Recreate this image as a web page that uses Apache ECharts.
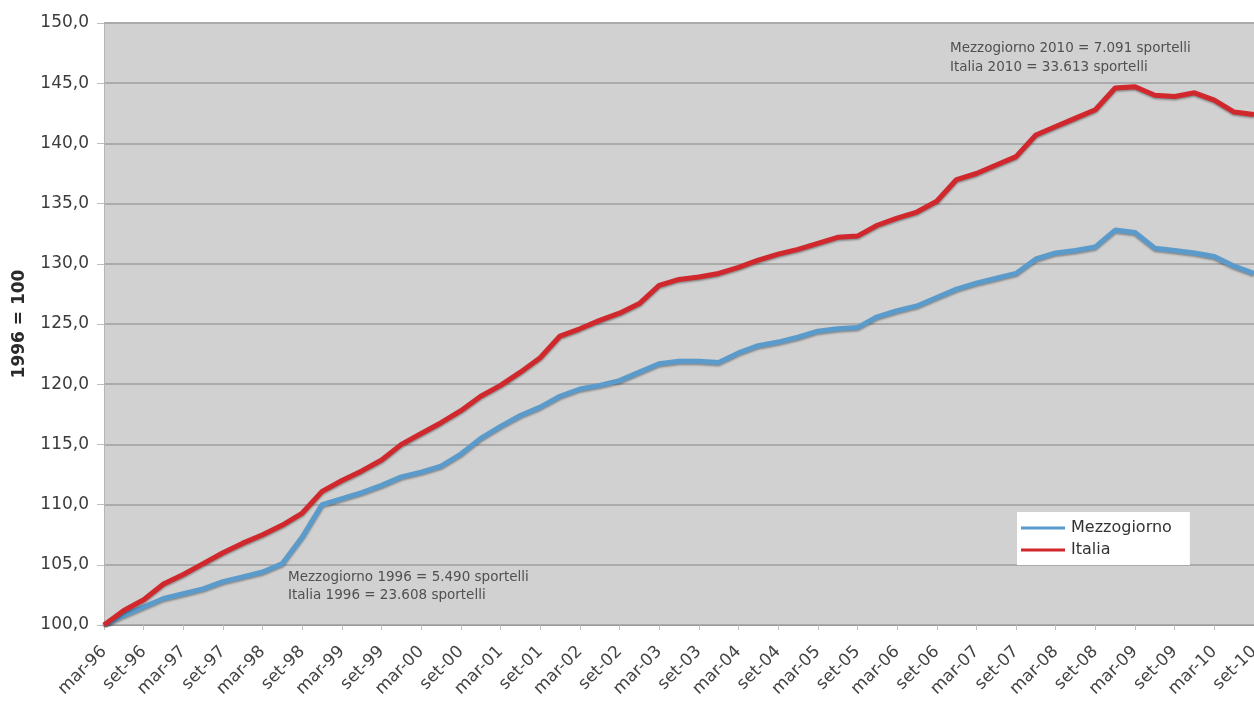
<!DOCTYPE html>
<html>
<head>
<meta charset="utf-8">
<script src="https://cdn.jsdelivr.net/npm/echarts@6/dist/echarts.min.js"></script>
<style>
  html, body { margin: 0; padding: 0; background: #ffffff; }
  #chart { width: 1254px; height: 701px; }
</style>
</head>
<body>
<div id="chart"></div>
<script>
// Quarterly periods, mar-96 .. set-10
const categories = [
  'mar-96','giu-96','set-96','dic-96','mar-97','giu-97','set-97','dic-97',
  'mar-98','giu-98','set-98','dic-98','mar-99','giu-99','set-99','dic-99',
  'mar-00','giu-00','set-00','dic-00','mar-01','giu-01','set-01','dic-01',
  'mar-02','giu-02','set-02','dic-02','mar-03','giu-03','set-03','dic-03',
  'mar-04','giu-04','set-04','dic-04','mar-05','giu-05','set-05','dic-05',
  'mar-06','giu-06','set-06','dic-06','mar-07','giu-07','set-07','dic-07',
  'mar-08','giu-08','set-08','dic-08','mar-09','giu-09','set-09','dic-09',
  'mar-10','giu-10','set-10'
];

// Bank branches index, 1996 = 100
const mezzogiorno = [
  100.0, 100.8, 101.5, 102.2, 102.6, 103.0, 103.6, 104.0,
  104.4, 105.1, 107.3, 110.0, 110.5, 111.0, 111.6, 112.3,
  112.7, 113.2, 114.2, 115.5, 116.5, 117.4, 118.1, 119.0,
  119.6, 119.9, 120.3, 121.0, 121.7, 121.9, 121.9, 121.8,
  122.6, 123.2, 123.5, 123.9, 124.4, 124.6, 124.7, 125.6,
  126.1, 126.5, 127.2, 127.9, 128.4, 128.8, 129.2, 130.4,
  130.9, 131.1, 131.4, 132.8, 132.6, 131.3, 131.1, 130.9,
  130.6, 129.8, 129.2
];

const italia = [
  100.0, 101.2, 102.1, 103.4, 104.2, 105.1, 106.0, 106.8,
  107.5, 108.3, 109.3, 111.1, 112.0, 112.8, 113.7, 115.0,
  115.9, 116.8, 117.8, 119.0, 119.9, 121.0, 122.2, 124.0,
  124.6, 125.3, 125.9, 126.7, 128.2, 128.7, 128.9, 129.2,
  129.7, 130.3, 130.8, 131.2, 131.7, 132.2, 132.3, 133.2,
  133.8, 134.3, 135.2, 137.0, 137.5, 138.2, 138.9, 140.7,
  141.4, 142.1, 142.8, 144.6, 144.7, 144.0, 143.9, 144.2,
  143.6, 142.6, 142.4
];

const seriesNames = ['Mezzogiorno', 'Italia'];
const notes1996 = ['Mezzogiorno 1996 = 5.490 sportelli', 'Italia 1996 = 23.608 sportelli'];
const notes2010 = ['Mezzogiorno 2010 = 7.091 sportelli', 'Italia 2010 = 33.613 sportelli'];

const FONT = 'DejaVu Sans';
const chart = echarts.init(document.getElementById('chart'), null, { renderer: 'canvas' });

function lineSeries(name, data, color) {
  return {
    name: name,
    type: 'line',
    data: data,
    symbol: 'none',
    smooth: false,
    lineStyle: {
      color: color,
      width: 5,
      shadowColor: 'rgba(0,0,0,0.35)',
      shadowBlur: 2,
      shadowOffsetY: 1.5
    },
    itemStyle: { color: color },
    z: 3
  };
}

chart.setOption({
  animation: false,
  backgroundColor: '#ffffff',
  grid: {
    left: 104, right: 0, top: 23, bottom: 76,
    outerBoundsMode: 'none',
    containLabel: false,
    show: true,
    backgroundColor: '#d1d1d1',
    borderWidth: 0
  },
  xAxis: {
    type: 'category',
    data: categories,
    boundaryGap: false,
    axisLine: { show: true, lineStyle: { color: '#9a9a9a', width: 1 } },
    axisTick: { show: true, interval: 1, length: 5, lineStyle: { color: '#bdbdbd' } },
    axisLabel: {
      interval: 1,
      rotate: 45,
      margin: 24,
      fontFamily: FONT,
      fontSize: 17,
      color: '#444444'
    },
    splitLine: { show: false }
  },
  yAxis: {
    type: 'value',
    min: 100, max: 150, interval: 5,
    name: '1996 = 100',
    nameLocation: 'middle',
    nameGap: 76,
    nameRotate: 90,
    nameTextStyle: { fontFamily: FONT, fontSize: 17, fontWeight: 'bold', color: '#2a2a2a' },
    axisLine: { show: true, lineStyle: { color: '#b5b5b5' } },
    axisTick: { show: true, length: 7, lineStyle: { color: '#bdbdbd' } },
    axisLabel: {
      margin: 15,
      fontFamily: FONT,
      fontSize: 17,
      color: '#3c3c3c',
      formatter: v => v.toFixed(1).replace('.', ',')
    },
    splitLine: { show: true, lineStyle: { color: '#ababab', width: 2 } }
  },
  legend: {
    data: seriesNames,
    orient: 'vertical',
    left: 1017, top: 512,
    backgroundColor: '#ffffff',
    padding: [8, 18, 7, 4],
    itemWidth: 44, itemHeight: 3,
    itemGap: 6,
    icon: 'rect',
    textStyle: { fontFamily: FONT, fontSize: 16, color: '#333333', padding: [0, 0, 0, 1] }
  },
  graphic: [
    {
      type: 'text', left: 288, top: 568,
      style: { text: notes1996.join('\n'), fontFamily: FONT, fontSize: 13.5, lineHeight: 18, fill: '#505050' },
      z: 10
    },
    {
      type: 'text', left: 950, top: 39,
      style: { text: notes2010.join('\n'), fontFamily: FONT, fontSize: 13.5, lineHeight: 19, fill: '#505050' },
      z: 10
    }
  ],
  series: [
    lineSeries(seriesNames[0], mezzogiorno, '#5a9bcc'),
    lineSeries(seriesNames[1], italia, '#d0282c')
  ]
});
</script>
</body>
</html>
